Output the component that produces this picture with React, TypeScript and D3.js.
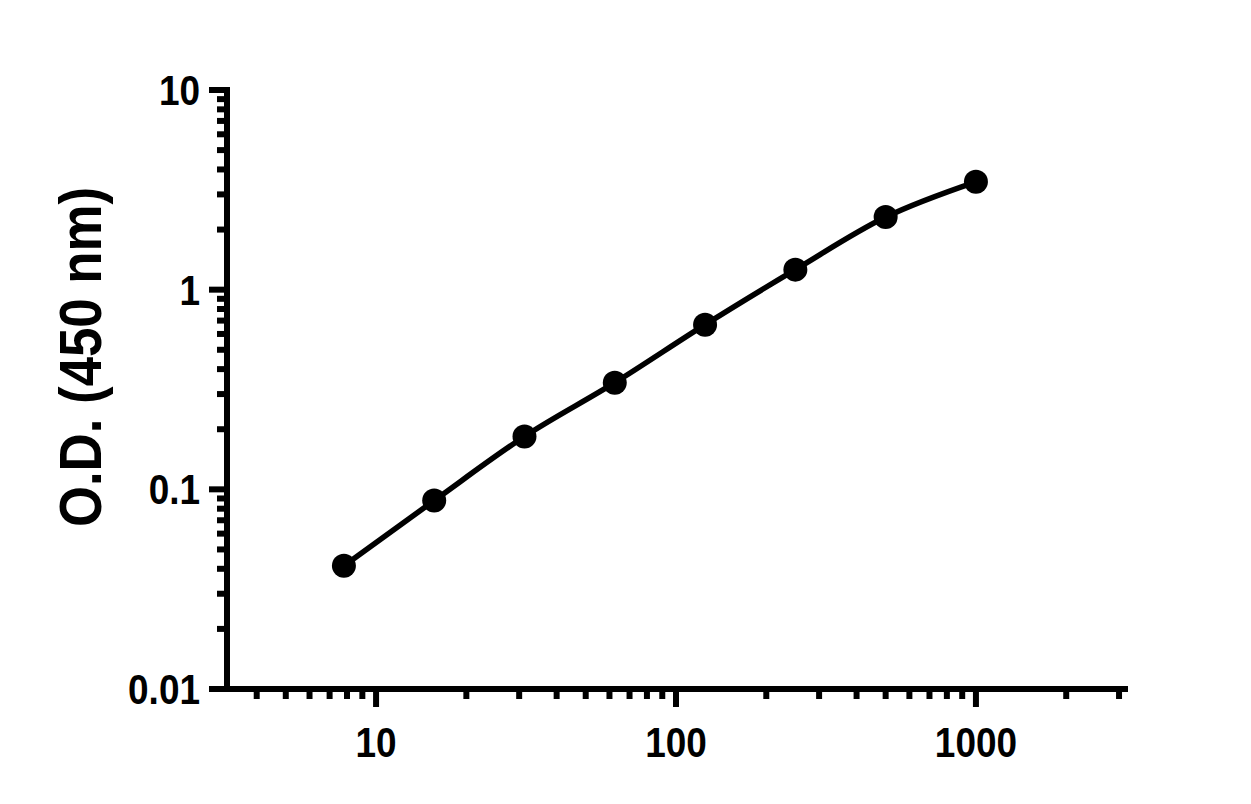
import * as d3 from 'd3';

// standard concentrations (two-fold dilution series)
const concentrations = [7.8125, 15.625, 31.25, 62.5, 125, 250, 500, 1000];
// measured optical density at 450 nm
const odValues = [0.0414, 0.0879, 0.184, 0.342, 0.668, 1.26, 2.31, 3.47];

const xMajorTicks = [10, 100, 1000];
const xTickLabels = ['10', '100', '1000'];
const yMajorTicks = [0.01, 0.1, 1, 10];
const yTickLabels = ['0.01', '0.1', '1', '10'];
const yTitle = 'O.D. (450 nm)';

const WIDTH = 1251;
const HEIGHT = 804;
const FONT = '"Liberation Sans", Arial, Helvetica, sans-serif';

export default function App() {
  const x = d3.scaleLog().domain([Math.pow(10, 0.503), Math.pow(10, 3.507)]).range([227, 1128]);
  const y = d3.scaleLog().domain([0.01, 10]).range([689, 90]);

  const [x0, x1] = x.range();
  const [yBottom, yTop] = y.range();

  // minor ticks for each decade, kept inside the axis domain
  const xDomain = x.domain();
  const xMinor: number[] = [];
  for (let e = 0; e <= 3; e++) {
    for (let m = 2; m <= 9; m++) {
      const v = m * Math.pow(10, e);
      if (v >= xDomain[0] && v <= xDomain[1]) xMinor.push(v);
    }
  }
  const yMinor: number[] = [];
  for (let e = -2; e <= 0; e++) {
    for (let m = 2; m <= 9; m++) yMinor.push(m * Math.pow(10, e));
  }

  const points = concentrations.map((c, i) => ({ c, od: odValues[i] }));
  const line = d3
    .line<{ c: number; od: number }>()
    .x(d => x(d.c))
    .y(d => y(d.od))
    .curve(d3.curveMonotoneX);

  const axisW = 6;
  const majorLen = 18;
  const minorLen = 10;
  const squeeze = 0.88;

  return (
    <svg
      width={WIDTH}
      height={HEIGHT}
      style={{ position: 'absolute', left: 0, top: 0, background: '#fff' }}
      fontFamily={FONT}
      fontWeight="bold"
    >
      <rect width={WIDTH} height={HEIGHT} fill="#fff" />

      {/* y axis */}
      <line x1={x0} x2={x0} y1={yTop - axisW / 2} y2={yBottom} stroke="#000" strokeWidth={axisW} />
      {yMajorTicks.map(t => (
        <line key={'ym' + t} x1={x0 - majorLen} x2={x0} y1={y(t)} y2={y(t)} stroke="#000" strokeWidth={axisW} />
      ))}
      {yMinor.map(t => (
        <line key={'yn' + t} x1={x0 - minorLen} x2={x0} y1={y(t)} y2={y(t)} stroke="#000" strokeWidth={axisW} />
      ))}
      {yMajorTicks.map((t, i) => (
        <text
          key={'yl' + t}
          transform={`translate(${x0 - 27},${y(t) + 15}) scale(${squeeze},1)`}
          textAnchor="end"
          fontSize={42}
          fill="#000"
        >
          {yTickLabels[i]}
        </text>
      ))}

      {/* x axis */}
      <line x1={x0 - majorLen} x2={x1} y1={yBottom} y2={yBottom} stroke="#000" strokeWidth={axisW} />
      {xMajorTicks.map(t => (
        <line key={'xm' + t} x1={x(t)} x2={x(t)} y1={yBottom} y2={yBottom + majorLen} stroke="#000" strokeWidth={axisW} />
      ))}
      {xMinor.map(t => (
        <line key={'xn' + t} x1={x(t)} x2={x(t)} y1={yBottom} y2={yBottom + minorLen} stroke="#000" strokeWidth={axisW} />
      ))}
      {xMajorTicks.map((t, i) => (
        <text
          key={'xl' + t}
          transform={`translate(${x(t)},${yBottom + 68}) scale(${squeeze},1)`}
          textAnchor="middle"
          fontSize={42}
          fill="#000"
        >
          {xTickLabels[i]}
        </text>
      ))}

      {/* axis title */}
      <text
        transform={`translate(101,357) rotate(-90) scale(${squeeze},1)`}
        textAnchor="middle"
        fontSize={60}
        fill="#000"
      >
        {yTitle}
      </text>

      {/* standard curve */}
      <path d={line(points) || ''} fill="none" stroke="#000" strokeWidth={5.5} />
      {points.map(p => (
        <circle key={p.c} cx={x(p.c)} cy={y(p.od)} r={12} fill="#000" />
      ))}
    </svg>
  );
}
